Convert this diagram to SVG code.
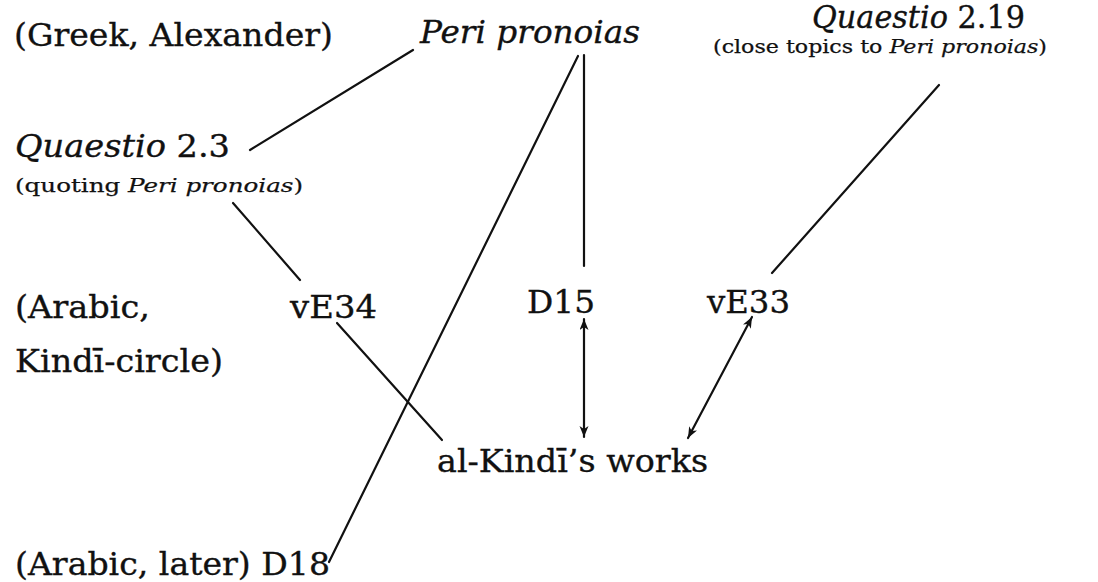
<svg xmlns="http://www.w3.org/2000/svg" width="1098" height="582" viewBox="0 0 1098 582">
  <defs>
    <style>
      .t { font-family: "DejaVu Serif", "Liberation Serif", serif; font-size: 32px; fill: #111; stroke: #111; stroke-width: 0.35; }
      .s { font-size: 19px; stroke-width: 0.25; }
      .i { font-style: italic; }
      .ln { stroke: #111; stroke-width: 2.2; fill: none; stroke-linecap: round; }
      .arr { marker-start: url(#head); marker-end: url(#head); }
    </style>
    <marker id="head" markerUnits="userSpaceOnUse" markerWidth="12" markerHeight="10" refX="11" refY="4.5" orient="auto-start-reverse" viewBox="0 0 12 10">
      <path d="M0,0 L11,4.5 L0,9 L3,4.5 Z" fill="#111"/>
    </marker>
  </defs>
  <rect width="1098" height="582" fill="#ffffff"/>

  <!-- connectors -->
  <g id="connectors">
    <line class="ln" x1="413" y1="50" x2="250" y2="150"/>
    <line class="ln" x1="578" y1="56" x2="329" y2="562"/>
    <line class="ln" x1="584" y1="55" x2="584" y2="266"/>
    <line class="ln" x1="233" y1="203" x2="300" y2="280"/>
    <line class="ln" x1="337" y1="323" x2="442" y2="440"/>
    <line class="ln arr" x1="584" y1="319" x2="584" y2="437"/>
    <line class="ln arr" x1="752" y1="317" x2="688" y2="438"/>
    <line class="ln" x1="939" y1="85" x2="772" y2="273"/>
  </g>

  <!-- nodes -->
  <g id="greek-label">
    <text class="t" x="14" y="46" textLength="319" lengthAdjust="spacingAndGlyphs">(Greek, Alexander)</text>
  </g>
  <g id="peri-pronoias">
    <text class="t i" x="420" y="43" textLength="220" lengthAdjust="spacingAndGlyphs">Peri pronoias</text>
  </g>
  <g id="quaestio-2-19">
    <text class="t" x="812" y="28" textLength="213" lengthAdjust="spacingAndGlyphs"><tspan class="i">Quaestio</tspan> 2.19</text>
    <text class="t s" x="713" y="53" textLength="334" lengthAdjust="spacingAndGlyphs">(close topics to <tspan class="i">Peri pronoias</tspan>)</text>
  </g>
  <g id="quaestio-2-3">
    <text class="t" x="15" y="157" textLength="215" lengthAdjust="spacingAndGlyphs"><tspan class="i">Quaestio</tspan>  2.3</text>
    <text class="t s" x="15" y="192" textLength="288" lengthAdjust="spacingAndGlyphs">(quoting <tspan class="i">Peri pronoias</tspan>)</text>
  </g>
  <g id="arabic-kindi-label">
    <text class="t" x="15" y="318" textLength="135" lengthAdjust="spacingAndGlyphs">(Arabic,</text>
    <text class="t" x="15" y="372" textLength="208" lengthAdjust="spacingAndGlyphs">Kindī-circle)</text>
  </g>
  <g id="vE34">
    <text class="t" x="290" y="318" textLength="87" lengthAdjust="spacingAndGlyphs">vE34</text>
  </g>
  <g id="D15">
    <text class="t" x="527" y="313" textLength="68" lengthAdjust="spacingAndGlyphs">D15</text>
  </g>
  <g id="vE33">
    <text class="t" x="707" y="313" textLength="83" lengthAdjust="spacingAndGlyphs">vE33</text>
  </g>
  <g id="al-kindi-works">
    <text class="t" x="437" y="472" textLength="271" lengthAdjust="spacingAndGlyphs">al-Kindī’s works</text>
  </g>
  <g id="D18">
    <text class="t" x="15" y="575" textLength="315" lengthAdjust="spacingAndGlyphs">(Arabic, later) D18</text>
  </g>
</svg>
